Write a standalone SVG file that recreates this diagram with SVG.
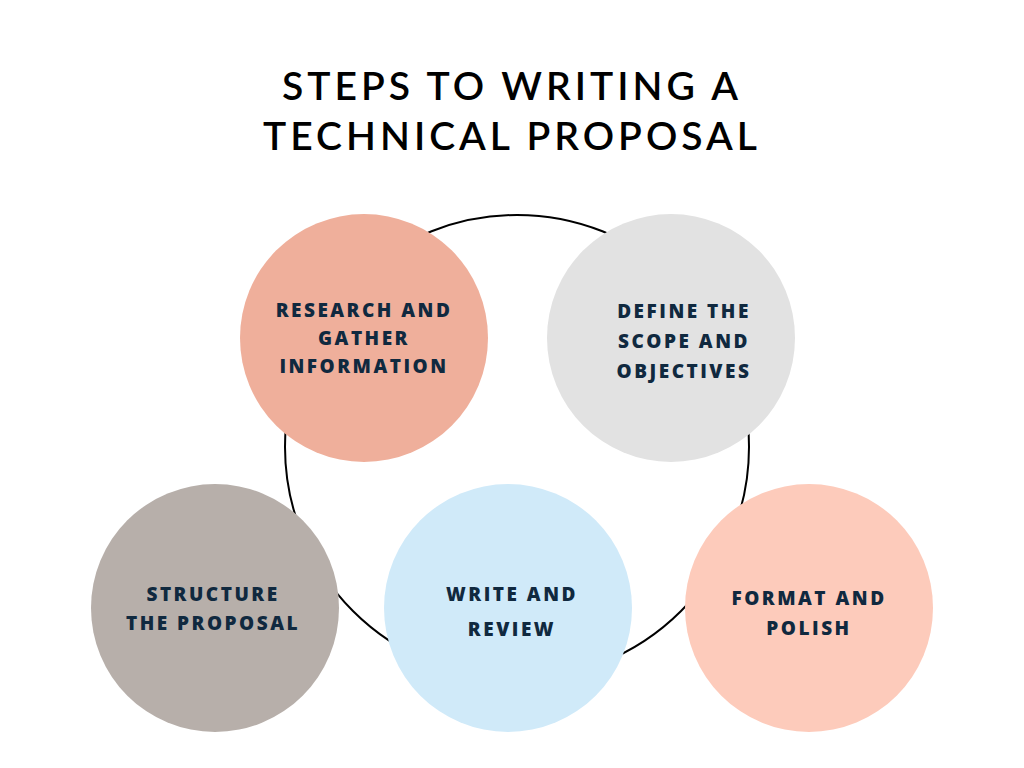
<svg xmlns="http://www.w3.org/2000/svg" width="1024" height="768" viewBox="0 0 1024 768">
<style>
.t{font-family:Lato,"Liberation Sans",sans-serif;font-size:39px;font-weight:600;letter-spacing:4px;fill:#000;text-anchor:middle}
.n{font-family:"Open Sans","Liberation Sans",sans-serif;font-size:19px;font-weight:800;letter-spacing:2.5px;fill:#10293f;text-anchor:middle}
</style>
<rect width="1024" height="768" fill="#fff"/>
<text class="t" x="512" y="100">STEPS TO WRITING A</text>
<text class="t" x="512" y="150">TECHNICAL PROPOSAL</text>
<g id="connectors"><circle cx="517" cy="447" r="232" fill="none" stroke="#000" stroke-width="2"/></g>
<g id="n1"><circle cx="364" cy="338" r="124" fill="#efaf9b"/><text class="n" x="364" y="317">RESEARCH AND</text><text class="n" x="364" y="345">GATHER</text><text class="n" x="364" y="373">INFORMATION</text></g>
<g id="n2"><circle cx="671" cy="338" r="124" fill="#e2e2e2"/><text class="n" x="684" y="318">DEFINE THE</text><text class="n" x="684" y="348">SCOPE AND</text><text class="n" x="684" y="378">OBJECTIVES</text></g>
<g id="n3"><circle cx="215" cy="608" r="124" fill="#b7afaa"/><text class="n" x="213" y="601">STRUCTURE</text><text class="n" x="213" y="630">THE PROPOSAL</text></g>
<g id="n4"><circle cx="508" cy="608" r="124" fill="#d0eaf9"/><text class="n" x="512" y="601">WRITE AND</text><text class="n" x="512" y="636">REVIEW</text></g>
<g id="n5"><circle cx="809" cy="608" r="124" fill="#fdcbbb"/><text class="n" x="809" y="605">FORMAT AND</text><text class="n" x="809" y="635">POLISH</text></g>
</svg>
